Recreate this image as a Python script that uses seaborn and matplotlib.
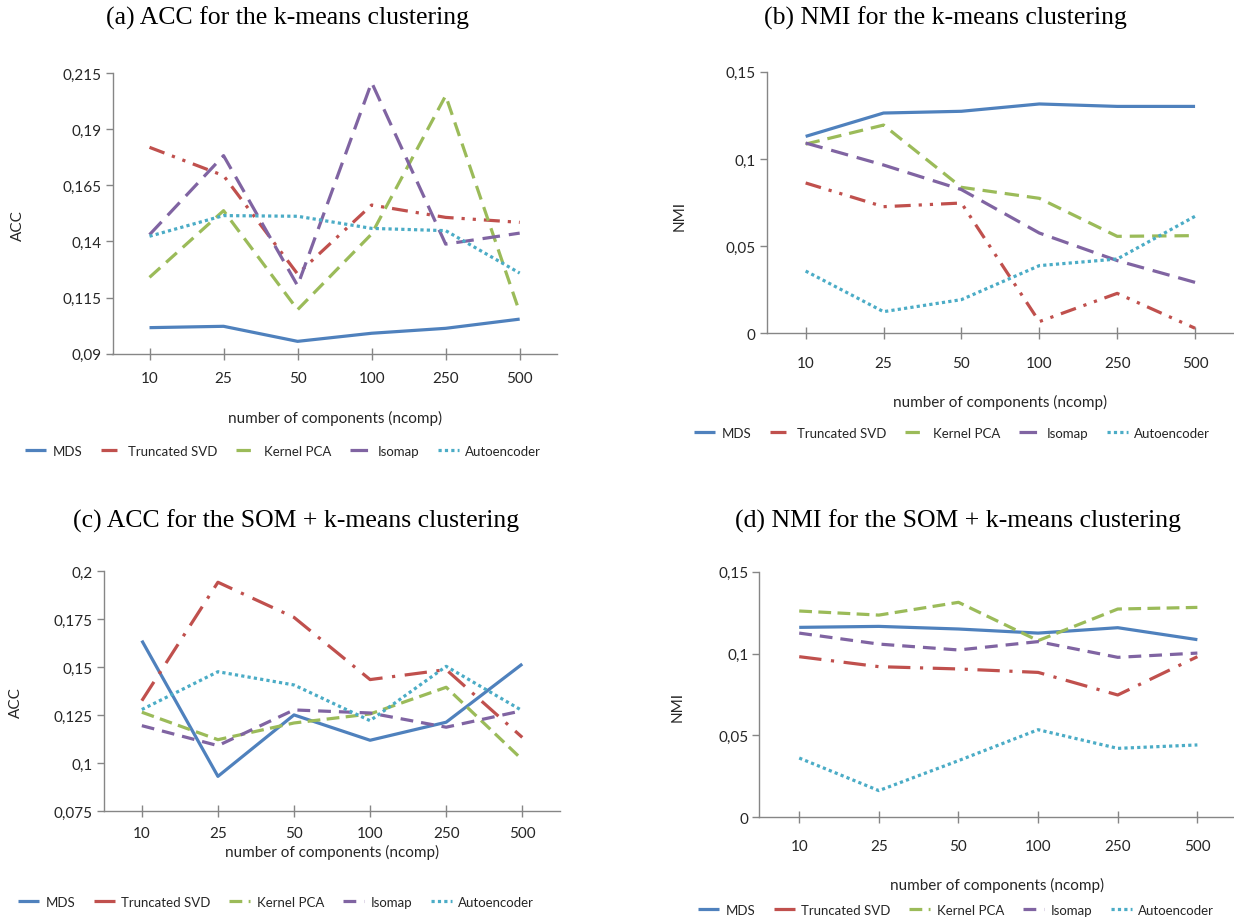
import numpy as np
import pandas as pd
import matplotlib
matplotlib.use("Agg")
import matplotlib.pyplot as plt
import seaborn as sns

# ---------------- data ----------------
ncomp_labels = ["10", "25", "50", "100", "250", "500"]
methods = ["MDS", "Truncated SVD", "Kernel PCA", "Isomap", "Autoencoder"]

# (a) ACC, k-means
acc_km_mds = [0.1016, 0.1022, 0.0955, 0.0991, 0.1013, 0.1054]
acc_km_svd = [0.1819, 0.1693, 0.1255, 0.1562, 0.1507, 0.1485]
acc_km_kpca = [0.1240, 0.1537, 0.1096, 0.1433, 0.2049, 0.1084]
acc_km_iso = [0.1430, 0.1782, 0.1203, 0.2108, 0.1388, 0.1437]
acc_km_ae = [0.1423, 0.1515, 0.1512, 0.1458, 0.1448, 0.1259]

# (b) NMI, k-means
nmi_km_mds = [0.1129, 0.1263, 0.1273, 0.1315, 0.1301, 0.1301]
nmi_km_svd = [0.0862, 0.0726, 0.0747, 0.0067, 0.0229, 0.0029]
nmi_km_kpca = [0.1085, 0.1194, 0.0837, 0.0774, 0.0556, 0.0560]
nmi_km_iso = [0.1091, 0.0965, 0.0824, 0.0575, 0.0417, 0.0292]
nmi_km_ae = [0.0357, 0.0124, 0.0193, 0.0388, 0.0426, 0.0671]

# (c) ACC, SOM + k-means
acc_som_mds = [0.1639, 0.0932, 0.1252, 0.1120, 0.1214, 0.1517]
acc_som_svd = [0.1326, 0.1943, 0.1760, 0.1436, 0.1488, 0.1135]
acc_som_kpca = [0.1266, 0.1123, 0.1210, 0.1257, 0.1396, 0.1019]
acc_som_iso = [0.1196, 0.1092, 0.1278, 0.1262, 0.1188, 0.1274]
acc_som_ae = [0.1280, 0.1477, 0.1408, 0.1222, 0.1505, 0.1274]

# (d) NMI, SOM + k-means
nmi_som_mds = [0.1160, 0.1166, 0.1150, 0.1125, 0.1158, 0.1085]
nmi_som_svd = [0.0981, 0.0920, 0.0906, 0.0885, 0.0747, 0.0981]
nmi_som_kpca = [0.1260, 0.1235, 0.1313, 0.1079, 0.1272, 0.1282]
nmi_som_iso = [0.1125, 0.1058, 0.1022, 0.1073, 0.0977, 0.1003]
nmi_som_ae = [0.0362, 0.0163, 0.0346, 0.0535, 0.0421, 0.0442]

acc_km_ticks = [0.09, 0.115, 0.14, 0.165, 0.19, 0.215]
nmi_ticks = [0, 0.05, 0.1, 0.15]
acc_som_ticks = [0.075, 0.1, 0.125, 0.15, 0.175, 0.2]

titles = ["(a) ACC for the k-means clustering",
          "(b) NMI for the k-means clustering",
          "(c) ACC for the SOM + k-means clustering",
          "(d) NMI for the SOM + k-means clustering"]
xlabel_text = "number of components (ncomp)"

# ---------------- style ----------------
sns.set_theme(style="white")
plt.rcParams['font.family'] = ['Lato', 'DejaVu Sans']

palette = {"MDS": "#4F81BD", "Truncated SVD": "#C0504D", "Kernel PCA": "#9BBB59",
           "Isomap": "#8064A2", "Autoencoder": "#4BACC6"}
dashes_top = {"MDS": "", "Truncated SVD": (5, 2.5, 1, 2.5, 1, 2.5), "Kernel PCA": (4.5, 2.5),
              "Isomap": (5.5, 2.8), "Autoencoder": (1, 1)}
dashes_bot = {"MDS": "", "Truncated SVD": (7, 3, 1, 3), "Kernel PCA": (4, 2),
              "Isomap": (4, 2.5), "Autoencoder": (1, 1)}

W, H = 1234, 920
fig = plt.figure(figsize=(W / 100, H / 100), dpi=100)
fig.patch.set_facecolor("white")


def box(l, t, r, b):
    return [l / W, 1 - b / H, (r - l) / W, (b - t) / H]


def fmt(v):
    s = f"{v:.3f}".rstrip("0").rstrip(".")
    return s.replace(".", ",")


panels = [
    dict(series=[acc_km_mds, acc_km_svd, acc_km_kpca, acc_km_iso, acc_km_ae], ticks=acc_km_ticks,
         box=(112.5, 74, 556.7, 354.7), xlim=(-0.5, 5.5), ylabel="ACC", dashes=dashes_top,
         title_xy=(288, 18), ylab_xy=(18, 226), xlab_y=418, leg_xy=(283, 452), xpad=8),
    dict(series=[nmi_km_mds, nmi_km_svd, nmi_km_kpca, nmi_km_iso, nmi_km_ae], ticks=nmi_ticks,
         box=(766.7, 72.7, 1234, 334.3), xlim=(-0.5, 5.5), ylabel="NMI", dashes=dashes_top,
         title_xy=(945, 18), ylab_xy=(680, 216), xlab_y=402, leg_xy=(952, 434), xpad=12),
    dict(series=[acc_som_mds, acc_som_svd, acc_som_kpca, acc_som_iso, acc_som_ae], ticks=acc_som_ticks,
         box=(103.8, 572.3, 560.3, 812.3), xlim=(-0.5, 5.5), ylabel="ACC", dashes=dashes_bot,
         title_xy=(296, 521), ylab_xy=(16, 703), xlab_y=852, leg_xy=(276, 903), xpad=6),
    dict(series=[nmi_som_mds, nmi_som_svd, nmi_som_kpca, nmi_som_iso, nmi_som_ae], ticks=nmi_ticks,
         box=(759.4, 572.7, 1234, 818.3), xlim=(-0.5, 5.46), ylabel="NMI", dashes=dashes_bot,
         title_xy=(958, 521), ylab_xy=(678, 707), xlab_y=885, leg_xy=(956, 911), xpad=11),
]

axis_grey = "#868686"
text_col = "#262626"

for p, title in zip(panels, titles):
    ax = fig.add_axes(box(*p["box"]))
    rows = []
    for m, vals in zip(methods, p["series"]):
        for i, v in enumerate(vals):
            rows.append({"pos": i, "value": v, "method": m})
    df = pd.DataFrame(rows)
    sns.lineplot(data=df, x="pos", y="value", hue="method", style="method",
                 hue_order=methods, style_order=methods, palette=palette,
                 dashes=p["dashes"], linewidth=2.3, ax=ax, legend=False, sort=False)
    ax.set_xlim(*p["xlim"])
    ax.set_ylim(p["ticks"][0], p["ticks"][-1])
    ax.set_xticks(range(len(ncomp_labels)))
    ax.set_xticklabels(ncomp_labels)
    ax.set_yticks(p["ticks"])
    ax.set_yticklabels([fmt(t) for t in p["ticks"]])
    ax.set_xlabel("")
    ax.set_ylabel("")
    for s in ["top", "right"]:
        ax.spines[s].set_visible(False)
    for s in ["left", "bottom"]:
        ax.spines[s].set_color(axis_grey)
        ax.spines[s].set_linewidth(1.0)
    ax.tick_params(axis="y", direction="out", length=5, width=1, color=axis_grey,
                   labelsize=11, labelcolor=text_col, pad=3, left=True)
    ax.tick_params(axis="x", direction="inout", length=9, width=1, color=axis_grey,
                   labelsize=11, labelcolor=text_col, pad=p["xpad"], bottom=True)
    for line in ax.get_lines():
        line.set_solid_capstyle("butt")
        line.set_dash_capstyle("butt")
        line.set_clip_on(False)

    fig.text(p["title_xy"][0] / W, 1 - p["title_xy"][1] / H, title, ha="center", va="center",
             fontsize=18.5, family=["Liberation Serif", "DejaVu Serif"], color="black")
    fig.text(p["ylab_xy"][0] / W, 1 - p["ylab_xy"][1] / H, p["ylabel"], rotation=90,
             ha="center", va="center", fontsize=11, color=text_col)
    l, t, r, b = p["box"]
    fig.text(((l + min(r, 1234)) / 2) / W, 1 - p["xlab_y"] / H, xlabel_text,
             ha="center", va="center", fontsize=11, color=text_col)
    handles = ax.get_lines()[:len(methods)]
    fig.legend(handles, methods, loc="center",
               bbox_to_anchor=(p["leg_xy"][0] / W, 1 - p["leg_xy"][1] / H),
               ncol=5, frameon=False, fontsize=9.5, handlelength=1.6,
               columnspacing=1.4, handletextpad=0.5, labelcolor=text_col)

fig.savefig("out.png", dpi=100, facecolor="white")
